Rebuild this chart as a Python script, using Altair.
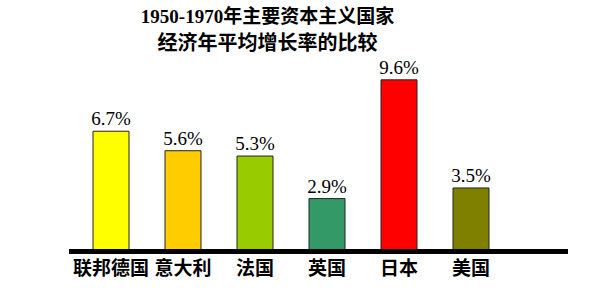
import altair as alt
import pandas as pd

countries = ["联邦德国", "意大利", "法国", "英国", "日本", "美国"]
growth = [6.7, 5.6, 5.3, 2.9, 9.6, 3.5]
labels = ["6.7%", "5.6%", "5.3%", "2.9%", "9.6%", "3.5%"]
colors = ["#FFFF00", "#FFCC00", "#99CC00", "#339966", "#FF0000", "#808000"]
title_line1 = "1950-1970年主要资本主义国家"
title_line2 = "经济年平均增长率的比较"

df = pd.DataFrame({"country": countries, "growth": growth, "label": labels})

x = alt.X(
    "country:N",
    sort=countries,
    scale=alt.Scale(range=[6, 438], paddingInner=0.5, paddingOuter=0.25),
    axis=alt.Axis(
        title=None, domain=False, ticks=False, labelAngle=0,
        labelFont="Noto Sans CJK SC", labelFontSize=19, labelFontWeight="bold",
        labelColor="#000000", labelPadding=9,
    ),
)
y = alt.Y("growth:Q", scale=alt.Scale(domain=[0, 10.7]), axis=None)

bars = alt.Chart(df).mark_bar(stroke="#222222", strokeWidth=1).encode(
    x=x, y=y,
    color=alt.Color("country:N", sort=countries,
                    scale=alt.Scale(domain=countries, range=colors), legend=None),
)
text = alt.Chart(df).mark_text(
    baseline="alphabetic", dy=-6, font="Liberation Serif", fontSize=19, color="#000000"
).encode(x=x, y=y, text="label:N")
base = alt.Chart(df).mark_rule(color="#000000", strokeWidth=4, yOffset=1.5).encode(y=alt.datum(0))

chart = alt.layer(bars, text, base).properties(
    width=499, height=195,
    padding={"left": 69, "top": 55, "right": 30, "bottom": 41},
    autosize=alt.AutoSizeParams(type="none"),
    background="#ffffff",
    title=alt.TitleParams(
        text=title_line1, subtitle=title_line2,
        font="Liberation Serif, Noto Sans CJK SC", fontSize=19, fontWeight="bold",
        subtitleFont="Noto Sans CJK SC", subtitleFontSize=20, subtitleFontWeight="bold",
        color="#000000", subtitleColor="#000000",
        anchor="middle", frame="group", dx=-51, offset=1.5, subtitlePadding=7,
    ),
).configure_view(strokeWidth=0)

chart.save("out.html", embed_options={"renderer": "svg", "actions": False})
